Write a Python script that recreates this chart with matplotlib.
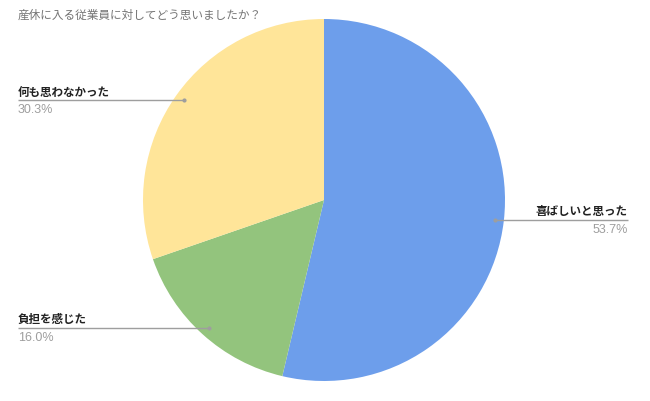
import numpy as np
import matplotlib
matplotlib.use("Agg")
import matplotlib.pyplot as plt

plt.rcParams['font.family'] = ['Noto Sans CJK JP', 'DejaVu Sans']

title = "産休に入る従業員に対してどう思いましたか？"
labels = ["喜ばしいと思った", "負担を感じた", "何も思わなかった"]
values = [53.7, 16.0, 30.3]
colors = ["#6d9eeb", "#93c47d", "#ffe599"]

W, H = 650, 402
fig = plt.figure(figsize=(W / 100, H / 100), dpi=100)
ax = fig.add_axes([0, 0, 1, 1])

cx, cy, R = 324, 201, 181
wedges, _ = ax.pie(values, colors=colors, startangle=90, counterclock=False,
                   center=(cx, cy), radius=R, frame=True,
                   wedgeprops=dict(linewidth=0))
ax.set_xlim(0, W)
ax.set_ylim(0, H)
ax.set_aspect('equal')
ax.axis('off')

label_x = {0: 628, 1: 18, 2: 18}
for i, w in enumerate(wedges):
    mid = np.deg2rad((w.theta1 + w.theta2) / 2)
    px = cx + 0.95 * R * np.cos(mid)
    py = cy + 0.95 * R * np.sin(mid)
    lx = label_x[i]
    ax.plot([px, lx], [py, py], color="#9e9e9e", lw=1, solid_capstyle='butt')
    ax.plot([px], [py], 'o', color="#9e9e9e", ms=2)
    ha = 'right' if lx > cx else 'left'
    ax.text(lx, py + 2.5, labels[i], ha=ha, va='bottom', fontsize=8.3,
            fontweight='bold', color="#222222")
    ax.text(lx, py - 3, f"{values[i]:.1f}%", ha=ha, va='top', fontsize=9,
            family=['Liberation Sans', 'DejaVu Sans'], color="#9e9e9e")

fig.text(18 / W, 1 - 15 / H, title, ha='left', va='center', fontsize=8.4,
         color="#757575")

fig.savefig("out.png", dpi=100, facecolor='white')
